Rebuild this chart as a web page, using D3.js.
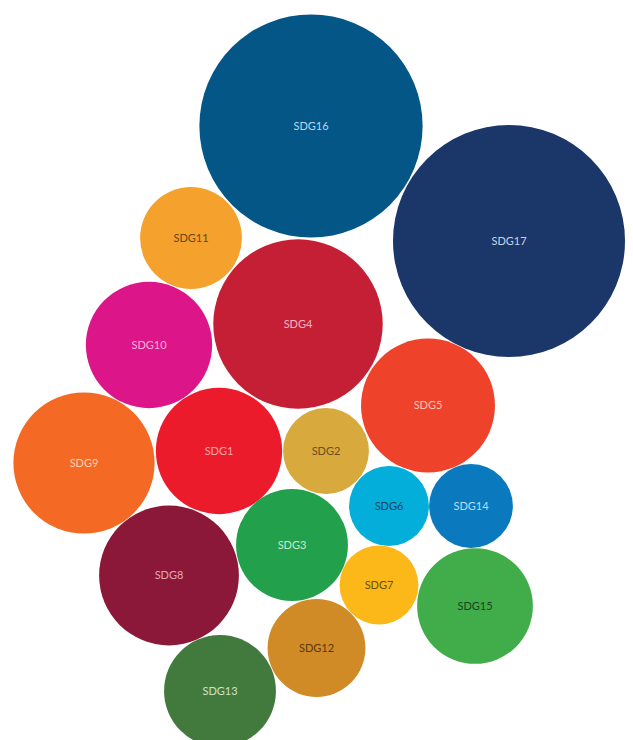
<!DOCTYPE html>
<html>
<head>
<meta charset="utf-8">
<script src="https://cdn.jsdelivr.net/npm/d3@7"></script>
<style>
  html, body { margin: 0; padding: 0; background: #ffffff; }
  svg { display: block; }
</style>
</head>
<body>
<div id="chart"></div>
<script>
// ---- data ----
const categories = ["SDG16","SDG17","SDG11","SDG4","SDG10","SDG5","SDG9","SDG1","SDG2","SDG6","SDG14","SDG8","SDG3","SDG7","SDG15","SDG12","SDG13"];
const values     = [125, 135, 26, 72, 40, 45, 50, 40, 18.5, 16, 17.6, 49, 31.4, 15.6, 33.6, 24, 31.4];
// layout position of each bubble (packed-bubble layout units)
const layoutX    = [311, 509, 191, 298, 149, 428, 84, 219, 326, 389, 471, 169, 292, 379, 475, 316.5, 220];
const layoutY    = [126, 241, 238, 324, 345, 405.5, 463, 451, 451, 506, 506, 575.5, 545, 585, 606, 648, 691];
const fillColors = ["#045687","#1b3668","#f4a12d","#c41f35","#dc1589","#ee422a","#f46a25","#eb1b2b","#d8a93c","#04aedb","#0a79be","#8b1838","#23a04c","#fbb818","#40ad4a","#d08b27","#427a3d"];
const labelColors= ["#bcd5ea","#c9d2e6","#6a4614","#f2b6c0","#f7b3dc","#f9c3b4","#fcd0b0","#f8a8b0","#6a5020","#14465e","#bcdcf2","#e3a7b6","#c6ead0","#6a4e0e","#16461e","#5a3808","#cfe0c8"];

// ---- chart ----
const W = 633, H = 740;
const svg = d3.select("#chart").append("svg")
  .attr("width", W).attr("height", H)
  .style("background", "#ffffff");

const x = d3.scaleLinear().domain([0, 633]).range([0, W]);
const y = d3.scaleLinear().domain([0, 740]).range([0, H]);
const r = d3.scaleSqrt().domain([0, 135]).range([0, 116]);

const data = categories.map((c, i) => ({
  name: c, value: values[i], lx: layoutX[i], ly: layoutY[i],
  fill: fillColors[i], label: labelColors[i]
}));

const g = svg.append("g");
const nodes = g.selectAll("g.node").data(data).join("g")
  .attr("class", "node")
  .attr("transform", d => `translate(${x(d.lx)},${y(d.ly)})`);

nodes.append("circle")
  .attr("r", d => r(d.value))
  .attr("fill", d => d.fill);

nodes.append("text")
  .attr("text-anchor", "middle")
  .attr("dy", "0.35em")
  .attr("font-family", "Lato, 'Open Sans', sans-serif")
  .attr("font-size", 11)
  .attr("fill", d => d.label)
  .text(d => d.name);
</script>
</body>
</html>
